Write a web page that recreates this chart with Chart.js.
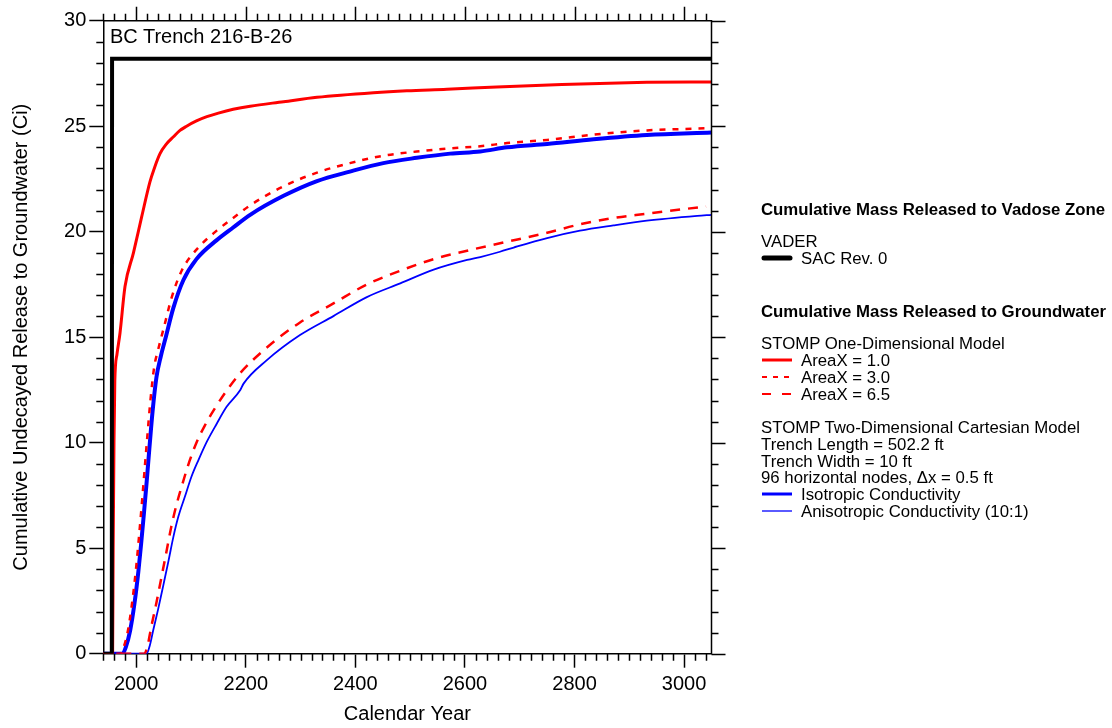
<!DOCTYPE html>
<html>
<head>
<meta charset="utf-8">
<script src="https://cdn.jsdelivr.net/npm/chart.js@4.4.1/dist/chart.umd.min.js"></script>
<style>
body{margin:0;background:#fff;}
#wrap{position:relative;width:1112px;height:728px;font-family:"Liberation Sans",Arial,sans-serif;color:#000;}
#chart{position:absolute;left:0;top:0;}
.t{position:absolute;white-space:nowrap;font-size:16.8px;line-height:16.8px;left:761px;}
.b{font-weight:bold;}
.t svg{display:inline-block;vertical-align:middle;margin-right:8px;margin-top:-3px;}
#title{position:absolute;left:110px;top:24px;font-size:20px;line-height:24px;white-space:nowrap;}
</style>
</head>
<body>
<div id="wrap">
  <canvas id="chart" width="1112" height="728"></canvas>
  <div id="title">BC Trench 216-B-26</div>

  <div class="t b" style="top:201.6px">Cumulative Mass Released to Vadose Zone</div>
  <div class="t" style="top:233.6px">VADER</div>
  <div class="t" style="top:250.6px"><svg width="32" height="10"><line x1="3" y1="5" x2="29" y2="5" stroke="#000" stroke-width="5" stroke-linecap="round"/></svg>SAC Rev. 0</div>

  <div class="t b" style="top:303.6px">Cumulative Mass Released to Groundwater</div>
  <div class="t" style="top:336.1px">STOMP One-Dimensional Model</div>
  <div class="t" style="top:352.9px"><svg width="32" height="10"><line x1="1" y1="5" x2="31" y2="5" stroke="#ff0000" stroke-width="3"/></svg>AreaX = 1.0</div>
  <div class="t" style="top:369.7px"><svg width="32" height="10"><line x1="1" y1="5" x2="31" y2="5" stroke="#ff0000" stroke-width="2" stroke-dasharray="5,6"/></svg>AreaX = 3.0</div>
  <div class="t" style="top:386.5px"><svg width="32" height="10"><line x1="1" y1="5" x2="31" y2="5" stroke="#ff0000" stroke-width="2" stroke-dasharray="9,11"/></svg>AreaX = 6.5</div>

  <div class="t" style="top:419.9px">STOMP Two-Dimensional Cartesian Model</div>
  <div class="t" style="top:436.7px">Trench Length = 502.2 ft</div>
  <div class="t" style="top:453.5px">Trench Width = 10 ft</div>
  <div class="t" style="top:470.3px">96 horizontal nodes, Δx = 0.5 ft</div>
  <div class="t" style="top:487.1px"><svg width="32" height="10"><line x1="1" y1="5" x2="31" y2="5" stroke="#0000ff" stroke-width="3"/></svg>Isotropic Conductivity</div>
  <div class="t" style="top:503.9px"><svg width="32" height="10"><line x1="1" y1="5" x2="31" y2="5" stroke="#0000ff" stroke-width="1.3"/></svg>Anisotropic Conductivity (10:1)</div>
</div>

<script>
// axis ticks
const xTicks = [2000, 2200, 2400, 2600, 2800, 3000];
const yTicks = [0, 5, 10, 15, 20, 25, 30];

// VADER SAC Rev. 0 (vadose zone)
const sacYears  = [1940, 1955.5, 1956, 3050];
const sacValues = [0, 0, 28.2, 28.2];

// STOMP 1-D, AreaX = 1.0
const a1Years  = [1940, 1957, 1958, 1959.5, 1961, 1965, 1970.5, 1979.6, 1995, 2010, 2025, 2033, 2043.5, 2055, 2068, 2080, 2092, 2110, 2129, 2150, 2177, 2208, 2269, 2330, 2433, 2494, 2567, 2658, 2777, 2932, 3050];
const a1Values = [0, 0, 5, 10, 12.9, 14.2, 15.2, 17.4, 19.0, 20.7, 22.35, 23.0, 23.7, 24.15, 24.5, 24.8, 25.0, 25.25, 25.45, 25.62, 25.8, 25.95, 26.16, 26.37, 26.59, 26.68, 26.75, 26.86, 26.98, 27.08, 27.1];

// STOMP 1-D, AreaX = 3.0
const a3Years  = [1940, 1971, 1977, 1985, 1993, 2000, 2005, 2010, 2015, 2020, 2026, 2033, 2040, 2050, 2065, 2083, 2110, 2147, 2177, 2208, 2269, 2330, 2390, 2451, 2512, 2573, 2628, 2677, 2750, 2835, 2932, 3040];
const a3Values = [0, 0, 0.3, 1.1, 2.5, 4.1, 5.5, 7.0, 8.6, 10.2, 12.0, 13.6, 14.4, 15.4, 16.9, 18.15, 19.15, 20.05, 20.65, 21.25, 22.15, 22.8, 23.25, 23.6, 23.8, 23.95, 24.05, 24.2, 24.35, 24.6, 24.8, 24.9];

// STOMP 1-D, AreaX = 6.5
const a65Years  = [1940, 2015, 2021, 2027, 2036, 2046, 2055, 2064, 2073, 2085, 2097, 2110, 2125, 2143, 2162, 2190, 2238, 2299, 2360, 2421, 2482, 2543, 2604, 2664, 2750, 2810, 2871, 2932, 3040];
const a65Values = [0, 0, 0.4, 1.2, 2.3, 3.6, 4.8, 6.0, 7.0, 8.1, 9.1, 10.0, 10.8, 11.6, 12.35, 13.3, 14.5, 15.7, 16.6, 17.5, 18.15, 18.7, 19.1, 19.45, 19.95, 20.35, 20.65, 20.85, 21.2];

// STOMP 2-D, isotropic conductivity
const isoYears  = [1940, 1975, 1981, 1989, 1997, 2004, 2009, 2014, 2019, 2024, 2030, 2037, 2045, 2053, 2068, 2086, 2110, 2147, 2177, 2208, 2269, 2330, 2390, 2451, 2512, 2573, 2628, 2677, 2750, 2835, 2932, 3050];
const isoValues = [0, 0, 0.3, 1.1, 2.4, 3.9, 5.2, 6.6, 8.1, 9.7, 11.5, 13.1, 14.1, 14.9, 16.4, 17.7, 18.7, 19.6, 20.2, 20.8, 21.7, 22.4, 22.85, 23.25, 23.5, 23.7, 23.8, 24.0, 24.16, 24.38, 24.58, 24.7];

// STOMP 2-D, anisotropic conductivity (10:1)
const anisoYears  = [1940, 2019, 2025, 2031, 2040, 2050, 2059, 2068, 2077, 2089, 2101, 2114, 2129, 2147, 2165, 2190, 2196, 2238, 2299, 2360, 2421, 2482, 2543, 2604, 2628, 2664, 2689, 2750, 2810, 2871, 2932, 3024, 3050];
const anisoValues = [0, 0, 0.4, 1.1, 2.1, 3.3, 4.4, 5.55, 6.5, 7.45, 8.4, 9.2, 10.05, 10.9, 11.7, 12.5, 12.8, 13.9, 15.1, 16.0, 16.9, 17.55, 18.2, 18.66, 18.8, 19.05, 19.25, 19.7, 20.05, 20.3, 20.52, 20.75, 20.8];

const pts = (xs, ys) => xs.map((v, i) => ({x: v, y: ys[i]}));
const font = {family: '"Liberation Sans", Arial, sans-serif', size: 20};

// top/right frame plus minor ticks on all four sides
const frameTicks = {
  id: 'frameTicks',
  afterDraw(chart){
    const {ctx, chartArea: a, scales: {x, y}} = chart;
    ctx.save();
    ctx.strokeStyle = '#000';
    ctx.lineWidth = 1.5;
    ctx.beginPath();
    ctx.moveTo(a.left, a.top); ctx.lineTo(a.right, a.top); ctx.lineTo(a.right, a.bottom);
    for(let v = x.min; v <= x.max; v += 20){
      const px = Math.round(x.getPixelForValue(v)) + 0.5;
      const major = xTicks.includes(v);
      ctx.moveTo(px, a.top); ctx.lineTo(px, a.top - (major ? 14 : 7));
      if(!major){ ctx.moveTo(px, a.bottom); ctx.lineTo(px, a.bottom + 7); }
    }
    for(let v = y.min; v <= y.max; v += 1){
      const py = Math.round(y.getPixelForValue(v)) + 0.5;
      const major = yTicks.includes(v);
      ctx.moveTo(a.right, py); ctx.lineTo(a.right + (major ? 14 : 7), py);
      if(!major){ ctx.moveTo(a.left, py); ctx.lineTo(a.left - 7, py); }
    }
    ctx.stroke();
    ctx.restore();
  }
};

const smooth = {cubicInterpolationMode: 'monotone'};

new Chart(document.getElementById('chart'), {
  type: 'line',
  data: {
    datasets: [
      {data: pts(sacYears, sacValues), borderColor: '#000', borderWidth: 4},
      {data: pts(a1Years, a1Values), borderColor: '#ff0000', borderWidth: 3, ...smooth},
      {data: pts(a3Years, a3Values), borderColor: '#ff0000', borderWidth: 2.5, borderDash: [6, 7], ...smooth},
      {data: pts(a65Years, a65Values), borderColor: '#ff0000', borderWidth: 2.5, borderDash: [10, 8], ...smooth},
      {data: pts(isoYears, isoValues), borderColor: '#0000ff', borderWidth: 4, ...smooth},
      {data: pts(anisoYears, anisoValues), borderColor: '#0000ff', borderWidth: 1.8, ...smooth}
    ]
  },
  options: {
    responsive: false,
    animation: false,
    layout: {padding: {left: 0, top: 20.7, right: 400.5, bottom: 0}},
    elements: {point: {radius: 0}, line: {tension: 0, fill: false}},
    plugins: {legend: {display: false}, tooltip: {enabled: false}},
    scales: {
      x: {
        type: 'linear', min: 1940, max: 3050,
        afterBuildTicks: s => { s.ticks = xTicks.map(v => ({value: v})); },
        afterFit: s => { s.height = 74.3; },
        grid: {drawOnChartArea: false, tickLength: 14, tickColor: '#000', tickWidth: 1.5},
        border: {color: '#000', width: 1.5},
        ticks: {color: '#000', font, padding: 5, maxRotation: 0, autoSkip: false, callback: v => String(v)},
        title: {display: true, text: 'Calendar Year', color: '#000', font, padding: {top: 0, bottom: 2}}
      },
      y: {
        min: 0, max: 30,
        afterBuildTicks: s => { s.ticks = yTicks.map(v => ({value: v})); },
        afterFit: s => { s.width = 103.3; },
        grid: {drawOnChartArea: false, tickLength: 14, tickColor: '#000', tickWidth: 1.5},
        border: {color: '#000', width: 1.5},
        ticks: {color: '#000', font, padding: 3, callback: v => String(v)},
        title: {display: true, text: 'Cumulative Undecayed Release to Groundwater (Ci)', color: '#000', font, padding: {top: 9, bottom: 0}}
      }
    }
  },
  plugins: [frameTicks]
});
</script>
</body>
</html>
